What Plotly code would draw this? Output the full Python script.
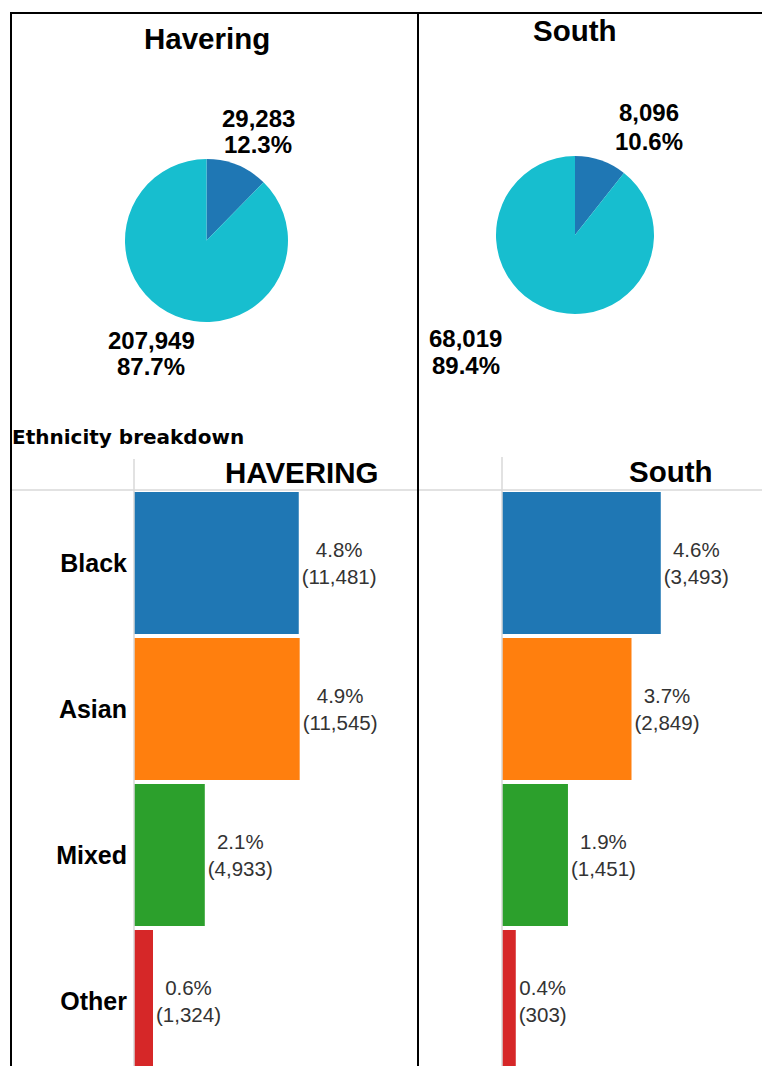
import plotly.graph_objects as go

# ---- data ----
areas = ["Havering", "South"]
bar_titles = ["HAVERING", "South"]
pie_groups = ["Ethnic minority", "White"]
havering_pie = [29283, 207949]
havering_pie_pct = [12.3, 87.7]
south_pie = [8096, 68019]
south_pie_pct = [10.6, 89.4]

ethnic_groups = ["Black", "Asian", "Mixed", "Other"]
havering_counts = [11481, 11545, 4933, 1324]
havering_pct = [4.8, 4.9, 2.1, 0.6]
south_counts = [3493, 2849, 1451, 303]
south_pct = [4.6, 3.7, 1.9, 0.4]

# ---- styles ----
W, H = 762, 1066
pie_colors = ["#1f77b4", "#17becf"]
bar_colors = ["#1f77b4", "#ff7f0e", "#2ca02c", "#d62728"]
FONT = "Liberation Sans, Arial, sans-serif"


def px(x):
    return x / W


def py(y):
    return 1 - y / H


fig = go.Figure()

# pies
pie_domains = [
    dict(x=[px(125), px(288)], y=[py(322), py(159)]),
    dict(x=[px(496), px(654)], y=[py(314), py(156)]),
]
for vals, dom in zip([havering_pie, south_pie], pie_domains):
    fig.add_trace(go.Pie(
        labels=pie_groups, values=vals, domain=dom, sort=False,
        direction="clockwise", rotation=0, textinfo="none",
        marker=dict(colors=pie_colors, line=dict(width=0)),
        showlegend=False, hoverinfo="label+value+percent",
    ))

# bars
y_pos = list(range(len(ethnic_groups)))
for i, (counts, pcts) in enumerate([(havering_counts, havering_pct), (south_counts, south_pct)]):
    fig.add_trace(go.Bar(
        x=counts, y=y_pos, orientation="h",
        marker=dict(color=bar_colors, line=dict(width=0)),
        text=[f"{p}%<br>({c:,})" for p, c in zip(pcts, counts)],
        textposition="outside", cliponaxis=False,
        textfont=dict(family=FONT, size=20.5, color="#333333"),
        xaxis="x" if i == 0 else "x2", yaxis="y" if i == 0 else "y2",
        showlegend=False,
    ))

ybase = dict(range=[3.445, -0.5], showgrid=False, zeroline=False, showline=False,
             tickmode="array", tickvals=y_pos, ticks="")
fig.update_layout(
    width=W, height=H, margin=dict(l=0, r=0, t=0, b=0),
    paper_bgcolor="white", plot_bgcolor="white",
    bargap=0.028,
    xaxis=dict(domain=[px(134), px(418)], range=[0, 19790], visible=False),
    xaxis2=dict(domain=[px(502), 1], range=[0, 5720], visible=False),
    yaxis=dict(domain=[0, py(490)], anchor="x", ticktext=ethnic_groups,
               tickfont=dict(family=FONT, size=25, color="black", weight="bold"),
               ticklabelstandoff=6, **ybase),
    yaxis2=dict(domain=[0, py(490)], anchor="x2", showticklabels=False, **ybase),
)

annotations = []


def ann(text, x, y, size, bold=True, family=FONT, xanchor="center", color="black"):
    annotations.append(dict(
        text=text, x=px(x), y=py(y), xref="paper", yref="paper",
        xanchor=xanchor, yanchor="middle", showarrow=False,
        font=dict(family=family, size=size, color=color, weight="bold" if bold else "normal"),
    ))


ann(areas[0], 207, 38, 29.5)
ann(areas[1], 575, 30, 29.5)
ann(f"{havering_pie[0]:,}", 258, 118, 24)
ann(f"{havering_pie_pct[0]}%", 258, 145, 24)
ann(f"{havering_pie[1]:,}", 151, 340, 24)
ann(f"{havering_pie_pct[1]}%", 151, 366, 24)
ann(f"{south_pie[0]:,}", 649, 113, 24)
ann(f"{south_pie_pct[0]}%", 649, 141, 24)
ann(f"{south_pie[1]:,}", 466, 338, 24)
ann(f"{south_pie_pct[1]}%", 466, 365, 24)
ann("Ethnicity breakdown", 10, 437, 20, bold=True, family="DejaVu Sans", xanchor="left")
ann(bar_titles[0], 302, 473, 29.5)
ann(bar_titles[1], 671, 471, 29.5)
fig.update_layout(annotations=annotations)

shapes = []
grey = "#d9d9d9"
shapes.append(dict(type="line", xref="paper", yref="paper", x0=px(11), x1=1, y0=py(490), y1=py(490),
                   line=dict(color=grey, width=1.5)))
shapes.append(dict(type="line", xref="paper", yref="paper", x0=px(134), x1=px(134), y0=py(459), y1=0,
                   line=dict(color=grey, width=1.5)))
shapes.append(dict(type="line", xref="paper", yref="paper", x0=px(502), x1=px(502), y0=py(457), y1=0,
                   line=dict(color=grey, width=1.5)))
# black frame lines
shapes.append(dict(type="line", xref="paper", yref="paper", x0=px(10), x1=1, y0=py(13), y1=py(13),
                   line=dict(color="black", width=2)))
shapes.append(dict(type="line", xref="paper", yref="paper", x0=px(11), x1=px(11), y0=py(12), y1=0,
                   line=dict(color="black", width=2)))
shapes.append(dict(type="line", xref="paper", yref="paper", x0=px(418), x1=px(418), y0=py(12), y1=0,
                   line=dict(color="black", width=2)))
fig.update_layout(shapes=shapes)

fig.write_html("out.html", config={"displayModeBar": False},
               post_script="document.body.style.margin='0';")
